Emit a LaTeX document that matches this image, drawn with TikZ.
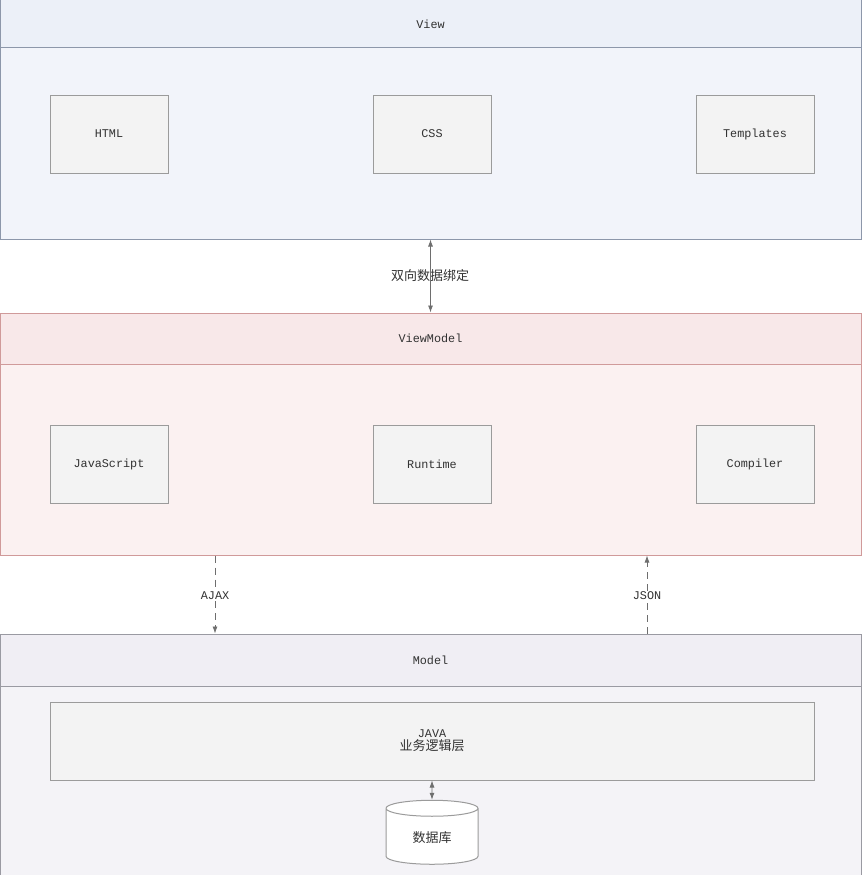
\documentclass[tikz,border=0pt]{standalone}
\usepackage{fontspec}
\setmonofont{Liberation Mono}
\newfontfamily\cjk{Noto Sans CJK SC}
\usetikzlibrary{positioning,shapes.geometric,arrows.meta}
\definecolor{vh}{RGB}{236, 240, 248}
\definecolor{vb}{RGB}{242, 244, 250}
\definecolor{vl}{RGB}{141, 151, 170}
\definecolor{mh}{RGB}{248, 232, 233}
\definecolor{mb}{RGB}{251, 241, 241}
\definecolor{ml}{RGB}{208, 154, 154}
\definecolor{dh}{RGB}{240, 238, 244}
\definecolor{db}{RGB}{244, 243, 247}
\definecolor{dl}{RGB}{154, 154, 162}
\definecolor{bx}{RGB}{243, 243, 243}
\definecolor{bl}{RGB}{155, 155, 155}
\definecolor{tx}{RGB}{50, 50, 50}
\definecolor{ar}{RGB}{110, 110, 110}
\def\boxw{118pt}
\def\boxh{78pt}
\tikzset{
	band/.style={rectangle,minimum width=861pt,inner sep=0pt,line width=1pt},
	part/.style={draw=bl,fill=bx,rectangle,minimum width=\boxw,minimum height=\boxh,line width=1pt,text=tx},
	lbl/.style={text=tx,font=\ttfamily\fontsize{11.8}{14}\selectfont},
	dash7/.style={dash pattern=on 7pt off 5pt}
}
\newcommand{\layer}[6]{\node[band,minimum height=#2,fill=#4,draw=#5,lbl] (#3) at (430.5,#1) {#6};}

\begin{document}
\begin{tikzpicture}[x=1pt,y=-1pt,>={Latex[length=7pt,width=5pt]},font=\ttfamily\fontsize{11.8}{14}\selectfont]
\useasboundingbox (0,0) rectangle (862,875);
\layer{24}{48pt}{viewhead}{vh}{vl}{View}
\layer{143.5}{191pt}{viewbody}{vb}{vl}{}
\layer{338.5}{51pt}{vmhead}{mh}{ml}{ViewModel}
\layer{459.5}{191pt}{vmbody}{mb}{ml}{}
\layer{660}{52pt}{mhead}{dh}{dl}{Model}
\layer{780.5}{189pt}{mbody}{db}{dl}{}

\node[part] (HTML) at (109,134) {HTML};
\node[part] (CSS) at (432,134) {CSS};
\node[part] (Templates) at (755,134) {Templates};
\node[part] (JavaScript) at (109,464) {JavaScript};
\node[part] (Runtime) at (432,464) {Runtime};
\node[part] (Compiler) at (755,464) {Compiler};
\node[part,minimum width=764pt,align=center] (JAVA) at (432,741) {JAVA\\[-1pt]{\cjk\fontsize{13}{15}\selectfont 业务逻辑层}};
\node[draw=bl,fill=white,cylinder,shape border rotate=90,aspect=0.35,minimum width=92pt,minimum height=64pt,line width=1pt,text=tx,font=\cjk\fontsize{13}{15}\selectfont] (database) at (432,838) {数据库};

\node[text=tx,font=\cjk\fontsize{13}{15}\selectfont] (bind) at (430,276) {双向数据绑定};
\node[text=tx,fill=white,inner sep=1pt] (ajax) at (215,596) {AJAX};
\node[text=tx,fill=white,inner sep=1pt] (json) at (647,596) {JSON};

\draw[<->,color=ar,line width=0.8pt] (viewbody.south) -- (vmhead.north);
\draw[color=ar,line width=0.8pt,dash7] (ajax |- vmbody.south) -- (ajax.north);
\draw[->,color=ar,line width=0.8pt,dash7] (ajax.south) -- (ajax |- mhead.north);
\draw[color=ar,line width=0.8pt,dash7] (json |- mhead.north) -- (json.south);
\draw[->,color=ar,line width=0.8pt,dash7] (json.north) -- (json |- vmbody.south);
\draw[<->,color=ar,line width=0.8pt] (JAVA.south) -- (database.north);
\end{tikzpicture}
\end{document}
